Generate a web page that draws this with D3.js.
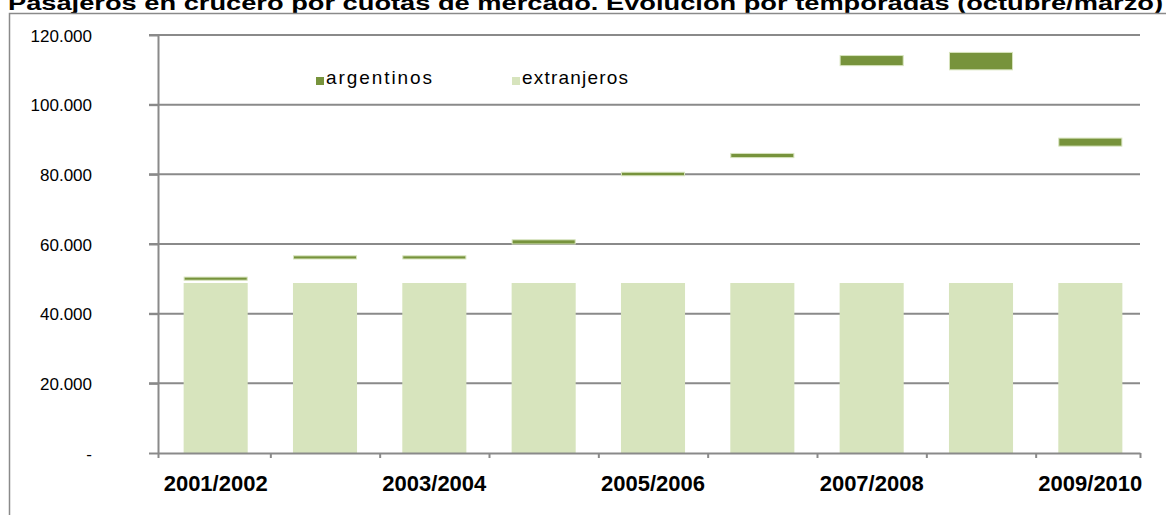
<!DOCTYPE html>
<html>
<head>
<meta charset="utf-8">
<script src="https://cdn.jsdelivr.net/npm/d3@7"></script>
<style>
  body { margin: 0; background: #fff; }
  svg { font-family: "Liberation Sans", Arial, sans-serif; display: block; }
</style>
</head>
<body>
<div id="graph"></div>
<script>
// seasons (octubre/marzo)
const seasons = ["2001/2002", "2002/2003", "2003/2004", "2004/2005", "2005/2006",
                 "2006/2007", "2007/2008", "2008/2009", "2009/2010"];
// only every other season is labelled on the axis
const labelledSeasons = ["2001/2002", "2003/2004", "2005/2006", "2007/2008", "2009/2010"];

// visible light bar (extranjeros) per season
const extranjeros = [48800, 48800, 48800, 48800, 48800, 48800, 48800, 48800, 48800];
// floating argentinos segment, bottom and top
const argentinosFrom = [49600, 55700, 55700, 60000, 79600, 84800, 111200, 110000, 88100];
const argentinosTo   = [50500, 56600, 56600, 61200, 80600, 86000, 114100, 115000, 90400];

const yTicks = [0, 20000, 40000, 60000, 80000, 100000, 120000];
const seriesNames = ["argentinos", "extranjeros"];

const width = 1166;
const height = 515;
const plot = {left: 158, right: 1140, top: 35, bottom: 453};
const colors = {argentinos: "#77933c", extranjeros: "#d7e4bd"};
const gridColor = "#8a8a8a";

const fmt = d3.formatLocale({decimal: ",", thousands: ".", grouping: [3], currency: ["", ""]}).format(",.0f");

const svg = d3.select("#graph")
    .append("svg")
    .attr("width", width)
    .attr("height", height);

// title (cut off by the top edge like the original)
svg.append("text")
    .attr("x", 8)
    .attr("y", 10)
    .attr("font-size", 21)
    .attr("font-weight", "bold")
    .attr("textLength", 1155)
    .attr("lengthAdjust", "spacingAndGlyphs")
    .text("Pasajeros en crucero por cuotas de mercado. Evolución por temporadas (octubre/marzo)");

// chart frame
svg.append("path")
    .attr("d", `M9.5,${height} V13.5 H${width}`)
    .attr("fill", "none")
    .attr("stroke", gridColor)
    .attr("stroke-width", 1.5);

const xScale = d3.scaleBand()
    .domain(seasons)
    .range([161, 1145])
    .paddingInner(0.414)
    .paddingOuter(0.207);

const yScale = d3.scaleLinear()
    .domain([0, 120000])
    .range([plot.bottom, plot.top]);

// gridlines
svg.append("g")
    .selectAll("line")
    .data(yTicks.slice(1))
    .join("line")
    .attr("x1", plot.left - 9)
    .attr("x2", plot.right)
    .attr("y1", d => yScale(d))
    .attr("y2", d => yScale(d))
    .attr("stroke", gridColor)
    .attr("stroke-width", 2);

// extranjeros bars
svg.append("g")
    .selectAll("rect")
    .data(seasons)
    .join("rect")
    .attr("x", d => xScale(d))
    .attr("width", xScale.bandwidth())
    .attr("y", (d, i) => yScale(extranjeros[i]))
    .attr("height", (d, i) => yScale(0) - yScale(extranjeros[i]))
    .attr("fill", colors.extranjeros);

// argentinos floating segments
svg.append("g")
    .selectAll("rect")
    .data(seasons)
    .join("rect")
    .attr("x", d => xScale(d) + 0.5)
    .attr("width", xScale.bandwidth() - 1)
    .attr("y", (d, i) => yScale(argentinosTo[i]))
    .attr("height", (d, i) => yScale(argentinosFrom[i]) - yScale(argentinosTo[i]))
    .attr("fill", colors.argentinos)
    .attr("stroke", colors.extranjeros)
    .attr("stroke-width", 1);

// y axis
const yAxis = svg.append("g")
    .attr("transform", `translate(${plot.left}, 0)`)
    .call(d3.axisLeft(yScale)
        .tickValues(yTicks)
        .tickSizeInner(9)
        .tickSizeOuter(0)
        .tickPadding(57)
        .tickFormat(d => d === 0 ? "-" : fmt(d)));
yAxis.select(".domain").attr("stroke", gridColor).attr("stroke-width", 2);
yAxis.selectAll(".tick line").attr("stroke", gridColor).attr("stroke-width", 2);
yAxis.selectAll("text").attr("font-size", 17).attr("fill", "#000").attr("dy", "0.36em");

// x axis: ticks between seasons
const step = xScale.step();
const boundaries = [plot.left]
    .concat(seasons.slice(1).map(d => xScale(d) - step * xScale.paddingInner() / 2))
    .concat([plot.right]);
const xTicks = svg.append("g")
    .attr("transform", `translate(0, ${plot.bottom})`)
    .call(d3.axisBottom(d3.scaleIdentity().domain([plot.left, plot.right]))
        .tickValues(boundaries)
        .tickSizeInner(5)
        .tickSizeOuter(0)
        .tickFormat(""));
xTicks.select(".domain").attr("stroke", gridColor).attr("stroke-width", 2);
xTicks.selectAll(".tick line").attr("stroke", gridColor).attr("stroke-width", 2);

// x labels
const xAxis = svg.append("g")
    .attr("transform", `translate(0, ${plot.bottom})`)
    .call(d3.axisBottom(xScale)
        .tickSize(0)
        .tickPadding(22)
        .tickFormat(d => labelledSeasons.includes(d) ? d : ""));
xAxis.select(".domain").remove();
xAxis.selectAll("text")
    .attr("font-size", 22)
    .attr("font-weight", "bold")
    .attr("fill", "#000")
    .attr("dy", "0.71em");

// legend
const legend = svg.append("g")
    .attr("font-size", 19);
const legendX = [316, 512];
seriesNames.forEach((name, i) => {
    legend.append("rect")
        .attr("x", legendX[i])
        .attr("y", 77)
        .attr("width", 8)
        .attr("height", 8)
        .attr("fill", colors[name]);
    legend.append("text")
        .attr("x", legendX[i] + 10)
        .attr("y", 84)
        .attr("textLength", 106)
        .attr("lengthAdjust", "spacing")
        .text(name);
});
</script>
</body>
</html>
